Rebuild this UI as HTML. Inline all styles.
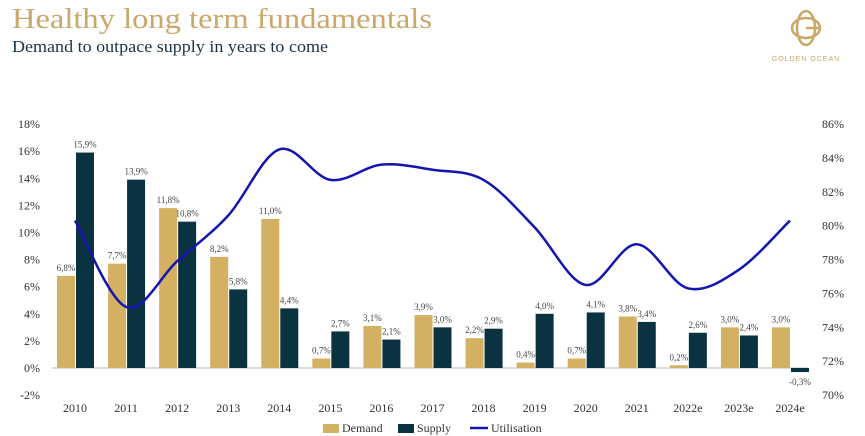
<!DOCTYPE html>
<html><head><meta charset="utf-8"><style>
body{margin:0;background:#fff;}
svg{display:block;font-family:"Liberation Serif",serif;}
</style></head><body>
<svg width="865" height="436" viewBox="0 0 865 436">
<text x="12" y="28" font-size="28" fill="#c9a86a" textLength="420" lengthAdjust="spacingAndGlyphs">Healthy long term fundamentals</text>
<text x="12" y="52" font-size="17" fill="#1b3442" textLength="316" lengthAdjust="spacingAndGlyphs">Demand to outpace supply in years to come</text>
<g fill="none" stroke="#c9a86a" stroke-width="2.5">
<ellipse cx="806" cy="28" rx="9" ry="17"/>
<ellipse cx="806" cy="28" rx="14" ry="10"/>
<line x1="806" y1="28" x2="819" y2="28"/>
</g>
<text x="806" y="61" font-size="7" fill="#c9a86a" text-anchor="middle" font-family="Liberation Sans,sans-serif" letter-spacing="1">GOLDEN OCEAN</text>
<g id="axes"></g>
<g id="bars"></g>
<g id="line"></g>
<g font-size="12" fill="#333">
<rect x="323" y="424" width="16" height="9" fill="#d4b062"/>
<text x="342" y="432">Demand</text>
<rect x="398" y="424" width="16" height="9" fill="#0b3241"/>
<text x="417" y="432">Supply</text>
<line x1="470" y1="428" x2="488" y2="428" stroke="#1414b0" stroke-width="2.5"/>
<text x="491" y="432">Utilisation</text>
</g>
</svg>
<script>
const categories=["2010","2011","2012","2013","2014","2015","2016","2017","2018","2019","2020","2021","2022e","2023e","2024e"];
const demand=[6.8,7.7,11.8,8.2,11.0,0.7,3.1,3.9,2.2,0.4,0.7,3.8,0.2,3.0,3.0];
const supply=[15.9,13.9,10.8,5.8,4.4,2.7,2.1,3.0,2.9,4.0,4.1,3.4,2.6,2.4,-0.3];
const utilisation=[80.3,75.2,77.9,80.6,84.5,82.7,83.6,83.3,82.7,79.9,76.5,78.9,76.3,77.4,80.3];
const leftTicks=[18,16,14,12,10,8,6,4,2,0,-2];
const rightTicks=[86,84,82,80,78,76,74,72,70];
const NS="http://www.w3.org/2000/svg";
const yL=v=>368-v*13.55;
const yR=v=>124+(86-v)*16.94;
const xC=i=>75+i*51.07;
const bw=18;
function mk(tag,attrs,parent,text){const e=document.createElementNS(NS,tag);for(const k in attrs)e.setAttribute(k,attrs[k]);if(text!==undefined)e.textContent=text;parent.appendChild(e);return e;}
const axes=document.getElementById('axes'),bars=document.getElementById('bars'),line=document.getElementById('line');
leftTicks.forEach(t=>{const e=mk('text',{x:40,y:yL(t)+4,'font-size':12,fill:'#333','text-anchor':'end'},axes,t+'%');

});
rightTicks.forEach(t=>{const e=mk('text',{x:822,y:yR(t)+4,'font-size':12,fill:'#333'},axes,t+'%');

});
const z=mk('line',{x1:52,x2:808,y1:yL(0),y2:yL(0),stroke:'#bbb','stroke-width':1},axes);


categories.forEach((c,i)=>{const e=mk('text',{x:xC(i),y:412,'font-size':12,fill:'#333','text-anchor':'middle'},axes,c);


const fmt=v=>v.toFixed(1).replace('.',',')+'%';
const d=demand[i],s=supply[i];
const r1=mk('rect',{x:xC(i)-bw,y:Math.min(yL(d),yL(0)),width:bw,height:Math.abs(yL(d)-yL(0)),fill:'#d4b062'},bars);


const r2=mk('rect',{x:xC(i)+1,y:Math.min(yL(s),yL(0)),width:bw,height:Math.abs(yL(s)-yL(0)),fill:'#0b3241'},bars);


const l1=mk('text',{x:xC(i)-bw/2,y:yL(Math.max(d,0))-5,'font-size':9,fill:'#444','text-anchor':'middle'},bars,fmt(d));


const l2=mk('text',{x:xC(i)+1+bw/2,y:s>=0?yL(s)-5:yL(s)+13,'font-size':9,fill:'#444','text-anchor':'middle'},bars,fmt(s));


});
const pts=utilisation.map((v,i)=>[xC(i),yR(v)]);
let d='M'+pts[0][0]+','+pts[0][1];
for(let i=0;i<pts.length-1;i++){const p0=pts[Math.max(i-1,0)],p1=pts[i],p2=pts[i+1],p3=pts[Math.min(i+2,pts.length-1)];
const c1=[p1[0]+(p2[0]-p0[0])/6,p1[1]+(p2[1]-p0[1])/6],c2=[p2[0]-(p3[0]-p1[0])/6,p2[1]-(p3[1]-p1[1])/6];
d+=` C${c1[0]},${c1[1]} ${c2[0]},${c2[1]} ${p2[0]},${p2[1]}`;}
const path=mk('path',{d:d,fill:'none',stroke:'#1414b0','stroke-width':2.5},line);


</script>
</body></html>
